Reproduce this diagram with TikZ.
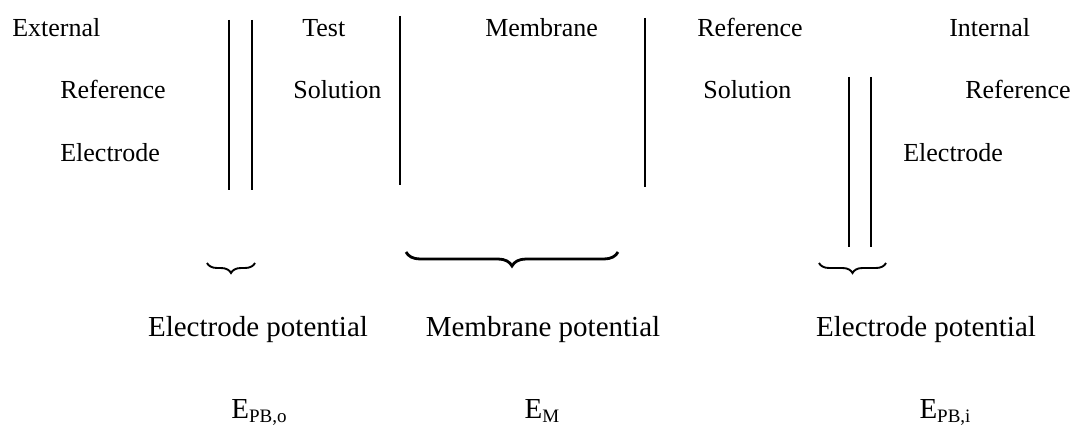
\documentclass[tikz,border=0pt]{standalone}
\usepackage{fontspec}
\setmainfont{Liberation Serif}
\usetikzlibrary{decorations.pathreplacing}
\newcommand\Esub[1]{E\raisebox{-4pt}{\fontsize{19}{19}\selectfont #1}}

\begin{document}
\begin{tikzpicture}[x=1pt,y=-1pt,inner sep=0pt,semithick]
\tikzstyle{part}=[anchor=base west,font=\fontsize{26}{30}\selectfont]
\tikzstyle{pot}=[anchor=base,font=\fontsize{29}{34}\selectfont]
\tikzstyle{wall}=[line width=1.6pt]
\tikzstyle{gap}=[decorate,decoration={brace,mirror,amplitude=10pt},line width=1.9pt]
\useasboundingbox (0,0) rectangle (1075,441);
\node[part] (ext1) at (12,37) {External};
\node[part] (ext2) at (60,99) {Reference};
\node[part] (ext3) at (60,161) {Electrode};
\node[part] (test1) at (302,37) {Test};
\node[part] (test2) at (293,99) {Solution};
\node[part] (mem) at (485,37) {Membrane};
\node[part] (ref1) at (697,37) {Reference};
\node[part] (ref2) at (703,99) {Solution};
\node[part] (int1) at (949,37) {Internal};
\node[part] (int2) at (965,99) {Reference};
\node[part] (int3) at (903,161) {Electrode};
% phase boundaries
\draw[wall] (229,20) -- (229,190);
\draw[wall] (252,20) -- (252,190);
\draw[wall] (400,16) -- (400,185);
\draw[wall] (645,18) -- (645,187);
\draw[wall] (849,77) -- (849,247);
\draw[wall] (871,77) -- (871,247);
% braces
\draw[gap] (207,263) -- (255,263);
\draw[gap,line width=2.8pt,decoration={amplitude=14pt}] (406,252) -- (618,252);
\draw[gap] (819,263) -- (886,263);
\node[pot] (potO) at (258,336) {Electrode potential};
\node[pot] (potM) at (543,336) {Membrane potential};
\node[pot] (potI) at (926,336) {Electrode potential};
\node[pot] (eO) at (259,418) {\Esub{PB,o}};
\node[pot] (eM) at (542,418) {\Esub{M}};
\node[pot] (eI) at (945,418) {\Esub{PB,i}};
\end{tikzpicture}
\end{document}
